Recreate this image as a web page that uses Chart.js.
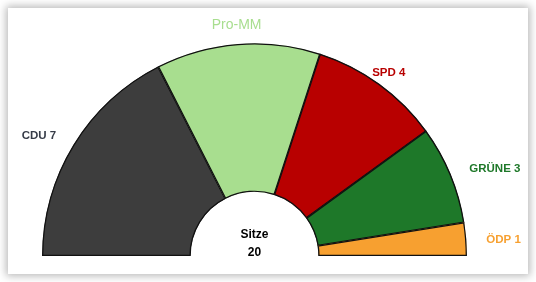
<!DOCTYPE html>
<html lang="de">
<head>
<meta charset="utf-8">
<title>Sitzverteilung</title>
<script src="https://cdn.jsdelivr.net/npm/chart.js@4"></script>
<style>
  html, body { margin: 0; padding: 0; background: #fff; }
  body { width: 536px; height: 282px; position: relative; overflow: hidden; }
  .karte {
    position: absolute; left: 8px; top: 8px; width: 520px; height: 266px;
    background: #fff; box-shadow: 0 0 8px 2px rgba(0, 0, 0, 0.28);
  }
  #sitze { position: absolute; left: 0; top: 0; }
</style>
</head>
<body>
<div class="karte"></div>
<canvas id="sitze" width="536" height="282"></canvas>
<script>
// Sitzverteilung im Rat
const parteien = ['CDU', 'Pro-MM', 'SPD', 'GRÜNE', 'ÖDP'];
const sitze = [7, 5, 4, 3, 1];
const zeigeZahl = [true, false, true, true, true];
const farben = ['#3d3d3d', '#a8de8f', '#b80000', '#1e7829', '#f7a030'];
const textFarben = ['#363c48', '#a8de8f', '#b80000', '#1e7829', '#f7a030'];

const gesamt = sitze.reduce((a, b) => a + b, 0);

// Beschriftung außen + Summe in der Mitte
const beschriftung = {
  id: 'beschriftung',
  afterDatasetsDraw(chart) {
    const ctx = chart.ctx;
    const arcs = chart.getDatasetMeta(0).data;
    ctx.save();
    ctx.textBaseline = 'middle';
    arcs.forEach((arc, i) => {
      const mitte = (arc.startAngle + arc.endAngle) / 2;
      const c = Math.cos(mitte);
      // seitliche Labels etwas weiter raus, obere etwas näher
      const r = arc.outerRadius + (Math.abs(c) > 0.7 ? 20 : 16);
      const x = arc.x + c * r;
      const y = arc.y + Math.sin(mitte) * r;
      ctx.textAlign = Math.abs(c) > 0.7 ? (c < 0 ? 'right' : 'left') : 'center';
      ctx.fillStyle = textFarben[i];
      if (zeigeZahl[i]) {
        ctx.font = 'bold 11.5px "Liberation Sans", Arial, sans-serif';
        ctx.fillText(parteien[i] + ' ' + sitze[i], x, y + 2);
      } else {
        ctx.font = '14px "Liberation Sans", Arial, sans-serif';
        ctx.fillText(parteien[i], x, y - 3);
      }
    });
    const a = arcs[0];
    ctx.textAlign = 'center';
    ctx.fillStyle = '#000';
    ctx.font = 'bold 12px "Liberation Sans", Arial, sans-serif';
    ctx.fillText('Sitze', a.x, a.y - 21);
    ctx.fillText(String(gesamt), a.x, a.y - 3);
    ctx.restore();
  }
};

new Chart(document.getElementById('sitze'), {
  type: 'doughnut',
  data: {
    labels: parteien,
    datasets: [{
      data: sitze,
      backgroundColor: farben,
      borderColor: '#111',
      borderWidth: 1,
      borderAlign: 'inner'
    }]
  },
  options: {
    responsive: false,
    animation: false,
    rotation: -90,
    circumference: 180,
    cutout: '30%',
    layout: { padding: { left: 42, right: 69, top: 43, bottom: 26 } },
    plugins: {
      legend: { display: false },
      tooltip: { enabled: false }
    }
  },
  plugins: [beschriftung]
});
</script>
</body>
</html>
